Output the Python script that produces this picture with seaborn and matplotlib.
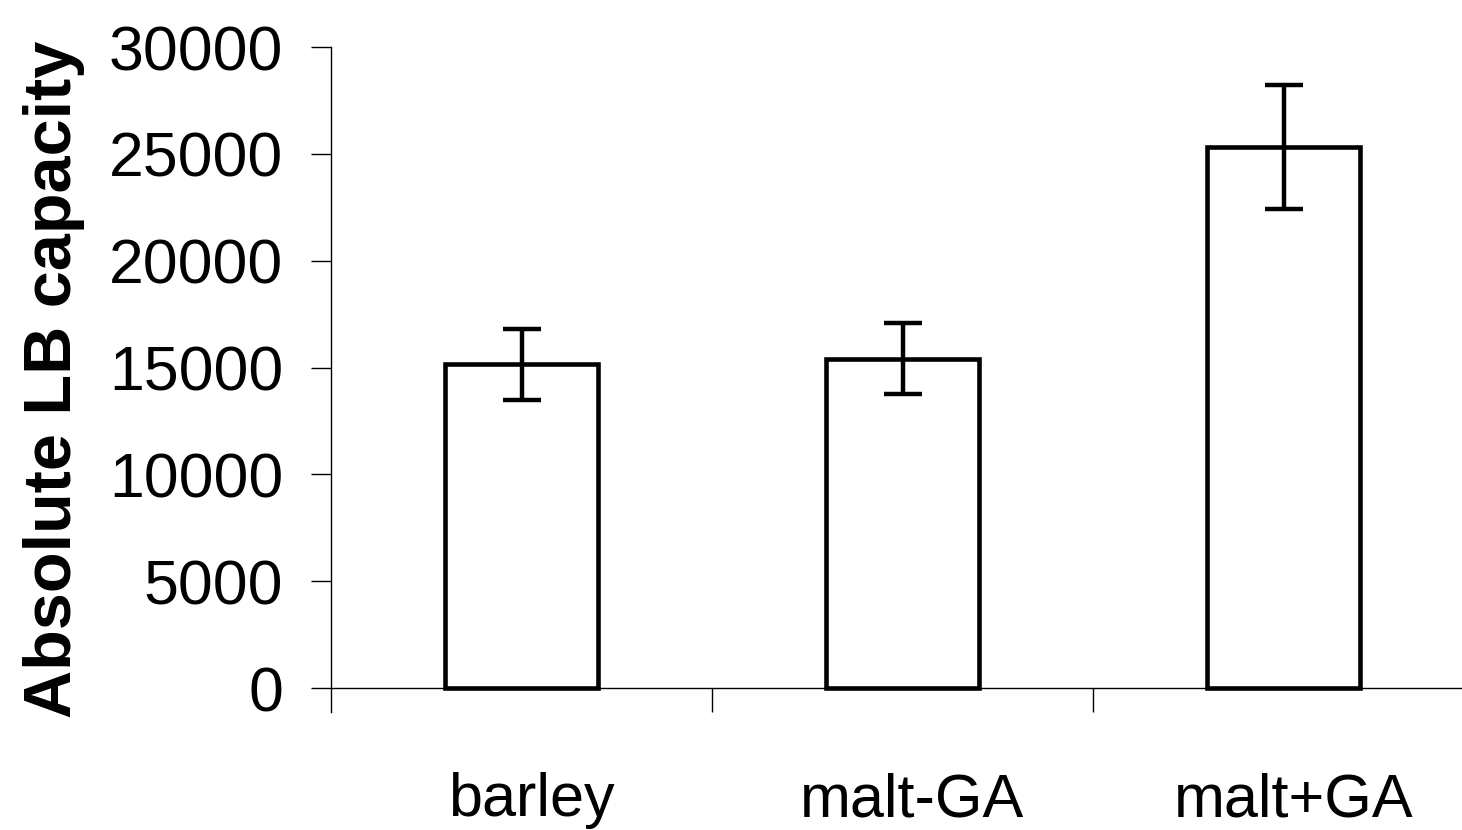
import matplotlib
matplotlib.use("Agg")
import matplotlib.pyplot as plt
import seaborn as sns
import pandas as pd

# Absolute LB capacity per sample type (mean and error)
categories = ["barley", "malt-GA", "malt+GA"]
capacity = [15150, 15420, 25300]
capacity_err = [1660, 1660, 2900]
y_ticks = [0, 5000, 10000, 15000, 20000, 25000, 30000]

sns.set_style("white")
plt.rcParams["font.family"] = ["Liberation Sans", "DejaVu Sans"]
plt.rcParams["text.color"] = "black"
plt.rcParams["axes.labelcolor"] = "black"
plt.rcParams["xtick.color"] = "black"
plt.rcParams["ytick.color"] = "black"

df = pd.DataFrame({"sample": categories, "capacity": capacity})

fig = plt.figure(figsize=(14.62, 8.30), dpi=100)
ax = fig.add_axes([331 / 1462, 1 - 712 / 830, 1143 / 1462, 665 / 830])

sns.barplot(data=df, x="sample", y="capacity", color="white",
            edgecolor="black", linewidth=3.3, width=0.4, ax=ax,
            errorbar=None, saturation=1)
eb = ax.errorbar(range(len(categories)), capacity, yerr=capacity_err,
                 fmt="none", ecolor="black", elinewidth=3.2, capsize=13.7,
                 capthick=3.2, zorder=3)
for cap in eb[1]:
    cap.set_solid_capstyle("round")

ax.set_xlim(-0.5, 2.5)
ax.set_ylim(-1123, 30000)
ax.set_yticks(y_ticks)
ax.set_yticklabels([str(t) for t in y_ticks])

# category names are written below the axis; separator ticks between groups
ax.set_xticks(range(len(categories)))
ax.set_xticklabels([])
ax.set_xticks([0.5, 1.5, 2.5], minor=True)
ax.tick_params(axis="x", which="major", length=0, bottom=False)
ax.tick_params(axis="x", which="minor", length=17.3, width=1,
               direction="out", color="black", bottom=True)
ax.tick_params(axis="y", length=14.4, width=1, direction="out",
               color="black", pad=20, left=True, labelsize=45,
               labelcolor="black")

for i, name in enumerate(categories):
    ax.annotate(name, xy=(i, 0), xycoords="data", xytext=(10, -128),
                textcoords="offset pixels", ha="center", va="baseline",
                fontsize=44, color="black", annotation_clip=False)

for side in ("top", "right"):
    ax.spines[side].set_visible(False)
ax.spines["bottom"].set_position(("data", 0))
ax.spines["bottom"].set_linewidth(1)
ax.spines["bottom"].set_color("black")
ax.spines["left"].set_linewidth(1)
ax.spines["left"].set_color("black")

ax.set_xlabel("")
ax.set_ylabel("Absolute LB capacity", fontsize=48, fontweight="bold",
              labelpad=17, color="black")

fig.savefig("out.png", dpi=100)
